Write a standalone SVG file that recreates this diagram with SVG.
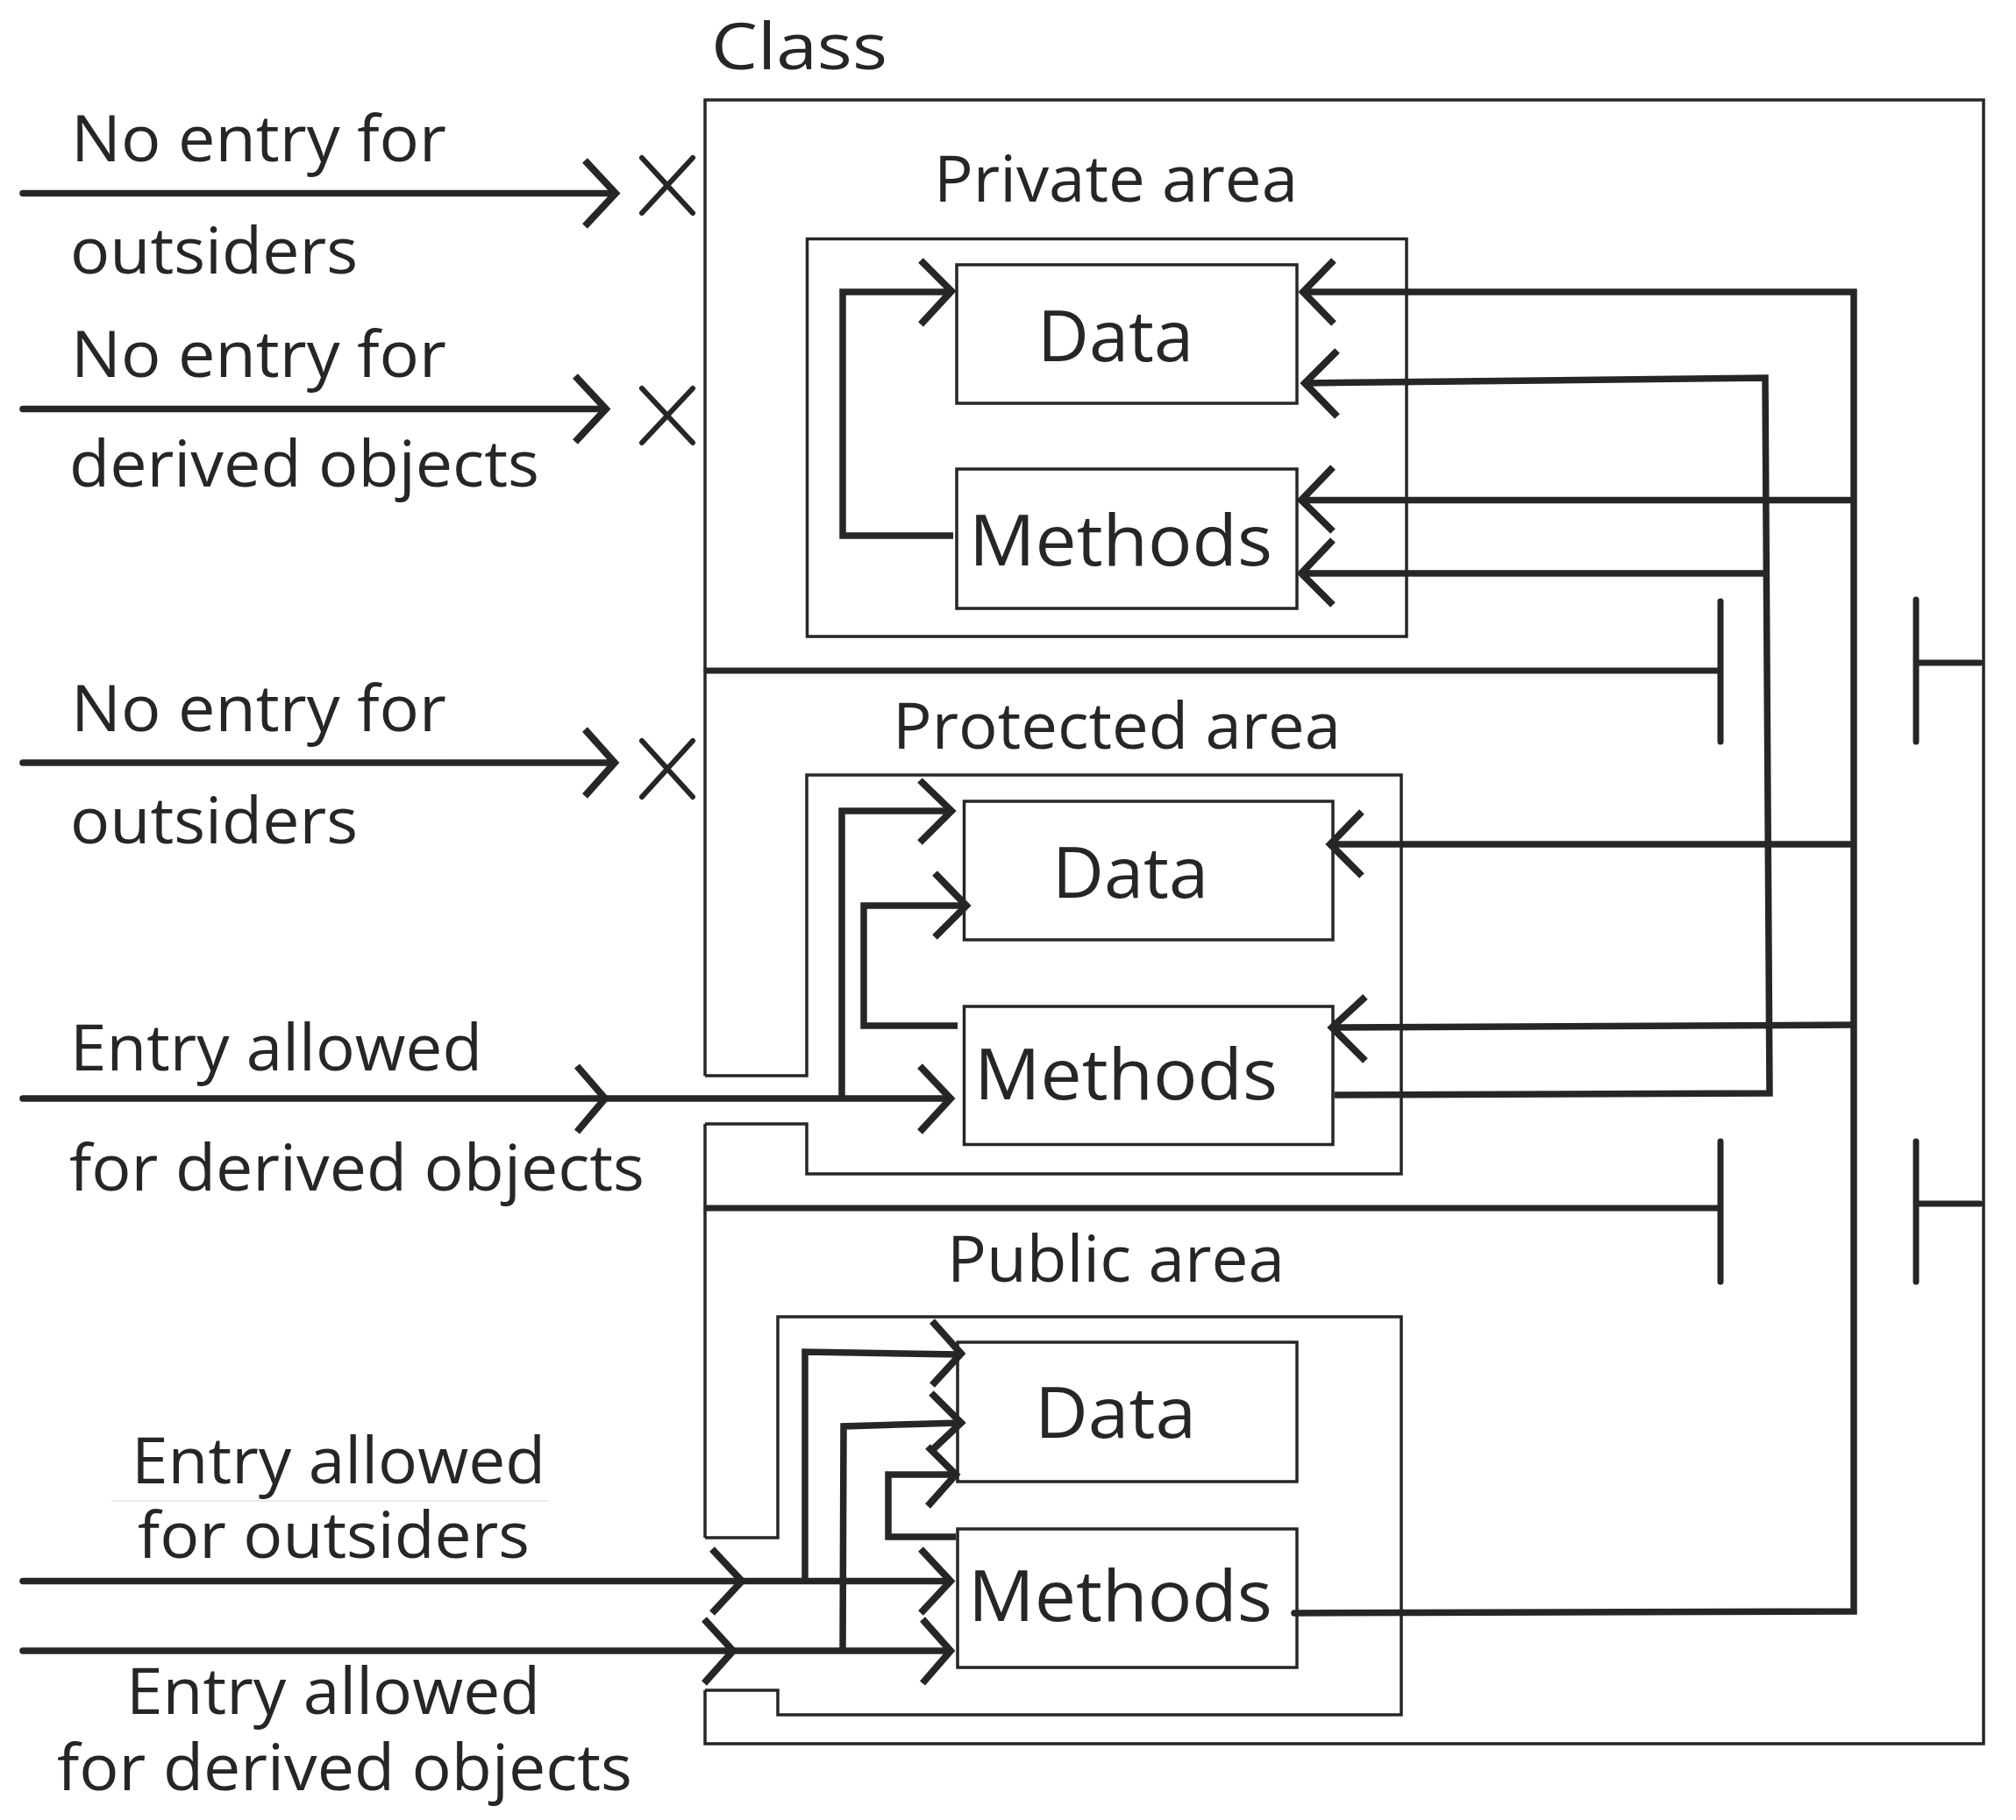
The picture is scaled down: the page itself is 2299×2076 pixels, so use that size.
<svg xmlns="http://www.w3.org/2000/svg" width="2299" height="2076" viewBox="0 0 2299 2076">
<defs>
<style>
.thin{fill:none;stroke:#262626;stroke-width:3.5}
.box{fill:#ffffff;stroke:#262626;stroke-width:3.5}
.conn{fill:none;stroke:#262626;stroke-width:7.5;stroke-linejoin:miter}
.head{fill:none;stroke:#262626;stroke-width:8;stroke-linejoin:miter;stroke-miterlimit:10}
.xm{fill:none;stroke:#262626;stroke-width:6;stroke-linecap:round}
.bar{fill:none;stroke:#262626;stroke-width:7;stroke-linecap:round}
.entry{fill:none;stroke:#262626;stroke-width:7.5;stroke-linecap:round}
text{font-family:"Open Sans","Noto Sans","Liberation Sans",sans-serif;fill:#262626}
.lbl{font-size:74px}
.area{font-size:73px}
.bx{font-size:80px}
</style>
</defs>
<rect width="2299" height="2076" fill="#ffffff"/>

<g id="class">
<path class="thin" d="M804,1227 V114 H2262 V1989 H804 V1928 M804,1282 V1754"/>
<text x="811" y="79" font-size="73" textLength="201" lengthAdjust="spacingAndGlyphs">Class</text>
</g>

<g id="private-area">
<rect class="thin" x="920.5" y="272.5" width="683.5" height="453.5"/>
<text class="area" x="1065" y="230" textLength="415" lengthAdjust="spacingAndGlyphs">Private area</text>
</g>
<g id="private-data">
<rect class="box" x="1091" y="302" width="388" height="158"/>
<text class="bx" x="1183" y="412" textLength="178" lengthAdjust="spacingAndGlyphs">Data</text>
</g>
<g id="private-methods">
<rect class="box" x="1091" y="535" width="388" height="159"/>
<text class="bx" x="1105" y="645" textLength="346" lengthAdjust="spacingAndGlyphs">Methods</text>
</g>

<g id="protected-area">
<path class="thin" d="M804,1227 H920 V884 H1598 V1339 H920 V1282 H804"/>
<text class="area" x="1018" y="854" textLength="511" lengthAdjust="spacingAndGlyphs">Protected area</text>
</g>
<g id="protected-data">
<rect class="box" x="1099.5" y="914" width="420.5" height="158"/>
<text class="bx" x="1200" y="1024" textLength="178" lengthAdjust="spacingAndGlyphs">Data</text>
</g>
<g id="protected-methods">
<rect class="box" x="1099.5" y="1148" width="420.5" height="157.5"/>
<text class="bx" x="1111" y="1254" textLength="346" lengthAdjust="spacingAndGlyphs">Methods</text>
</g>

<g id="public-area">
<path class="thin" d="M804,1754 H887 V1502 H1598 V1956 H887 V1928 H804"/>
<text class="area" x="1080" y="1462" textLength="385" lengthAdjust="spacingAndGlyphs">Public area</text>
</g>
<g id="public-data">
<rect class="box" x="1092" y="1531" width="387" height="159"/>
<text class="bx" x="1180" y="1640" textLength="184" lengthAdjust="spacingAndGlyphs">Data</text>
</g>
<g id="public-methods">
<rect class="box" x="1092" y="1744" width="387" height="158"/>
<text class="bx" x="1104" y="1849" textLength="347" lengthAdjust="spacingAndGlyphs">Methods</text>
</g>

<g id="labels">
<text class="lbl" x="81" y="184" textLength="428" lengthAdjust="spacingAndGlyphs">No entry for</text>
<text class="lbl" x="80" y="312" textLength="328" lengthAdjust="spacingAndGlyphs">outsiders</text>
<text class="lbl" x="81" y="430" textLength="428" lengthAdjust="spacingAndGlyphs">No entry for</text>
<text class="lbl" x="79" y="555" textLength="536" lengthAdjust="spacingAndGlyphs">derived objects</text>
<text class="lbl" x="81" y="834" textLength="428" lengthAdjust="spacingAndGlyphs">No entry for</text>
<text class="lbl" x="80" y="962" textLength="328" lengthAdjust="spacingAndGlyphs">outsiders</text>
<text class="lbl" x="80" y="1221" textLength="470" lengthAdjust="spacingAndGlyphs">Entry allowed</text>
<text class="lbl" x="79" y="1358" textLength="656" lengthAdjust="spacingAndGlyphs">for derived objects</text>
<text class="lbl" x="150" y="1692" textLength="472" lengthAdjust="spacingAndGlyphs">Entry allowed</text>
<path d="M127,1712 H626" stroke="#e4e4e4" stroke-width="1.5" fill="none"/>
<text class="lbl" x="157" y="1777" textLength="447" lengthAdjust="spacingAndGlyphs">for outsiders</text>
<text class="lbl" x="144" y="1955" textLength="472" lengthAdjust="spacingAndGlyphs">Entry allowed</text>
<text class="lbl" x="65" y="2042" textLength="656" lengthAdjust="spacingAndGlyphs">for derived objects</text>
</g>

<g id="connectors">
<path class="entry" d="M26,220.5 H700"/>
<path class="head" d="M667,183 L702,220.5 L667,258"/>
<path class="xm" d="M732,180 L790,243 M790,180 L732,243"/>
<path class="entry" d="M26,466.5 H690"/>
<path class="head" d="M656,429 L691,466.5 L656,504"/>
<path class="xm" d="M732,443 L790,505 M790,443 L732,505"/>
<path class="entry" d="M26,870 H700"/>
<path class="head" d="M667,832 L701,870 L667,908"/>
<path class="xm" d="M732,845 L790,909 M790,845 L732,909"/>

<path class="conn" d="M1087,611 H961 V333 H1084"/>
<path class="head" d="M1050,297 L1085,332 L1050,370"/>

<path class="entry" d="M26,1253 H1082"/>
<path class="head" d="M658,1216 L690,1253 L658,1291"/>
<path class="head" d="M1049,1216 L1084,1253 L1049,1291"/>
<path class="conn" d="M960,1253 V925 H1084"/>
<path class="head" d="M1049,890 L1085,925 L1049,961"/>
<path class="conn" d="M1092,1170 H985 V1033 H1100"/>
<path class="head" d="M1066,996 L1102,1033 L1066,1069"/>

<path class="entry" d="M26,1803.5 H1082"/>
<path class="head" d="M812,1767 L846,1803.5 L812,1840"/>
<path class="head" d="M1050,1767 L1084,1803.5 L1050,1840"/>
<path class="entry" d="M26,1883 H1082"/>
<path class="head" d="M803,1847 L836,1883 L803,1920"/>
<path class="head" d="M1052,1847 L1084,1883 L1052,1920"/>
<path class="conn" d="M918,1803.5 V1542 L1094,1545"/>
<path class="head" d="M1063,1507 L1096,1544 L1063,1580"/>
<path class="conn" d="M961,1883 L962,1627 L1094,1623"/>
<path class="head" d="M1062,1589 L1096,1623 L1062,1655"/>
<path class="conn" d="M1090,1753 H1013 V1682 H1088"/>
<path class="head" d="M1058,1650 L1090,1682 L1058,1718"/>

<path class="conn" d="M1488,333 H2114 V1838 L1476,1840" stroke-linecap="round"/>
<path class="head" d="M1521,297 L1486,333 L1521,369"/>
<path class="conn" d="M1490,437 L2013,431 L2018,1247 L1522,1249"/>
<path class="head" d="M1525,400 L1488,437 L1525,475"/>
<path class="conn" d="M1486,570.5 H2114"/>
<path class="head" d="M1520,533 L1484,570.5 L1520,606"/>
<path class="conn" d="M1486,654 H2015"/>
<path class="head" d="M1520,616 L1484,654 L1520,690"/>
<path class="conn" d="M1519,963 H2114"/>
<path class="head" d="M1553,926 L1517,963 L1553,999"/>
<path class="conn" d="M1521,1172 L2114,1169"/>
<path class="head" d="M1557,1137 L1519,1172 L1557,1210"/>

<path class="bar" d="M806,765 H1962 M1962,686 V846 M2185,684 V846 M2185,756 H2258"/>
<path class="bar" d="M806,1378 H1962 M1962,1302 V1462 M2185,1302 V1462 M2185,1373 H2258"/>
</g>
</svg>
